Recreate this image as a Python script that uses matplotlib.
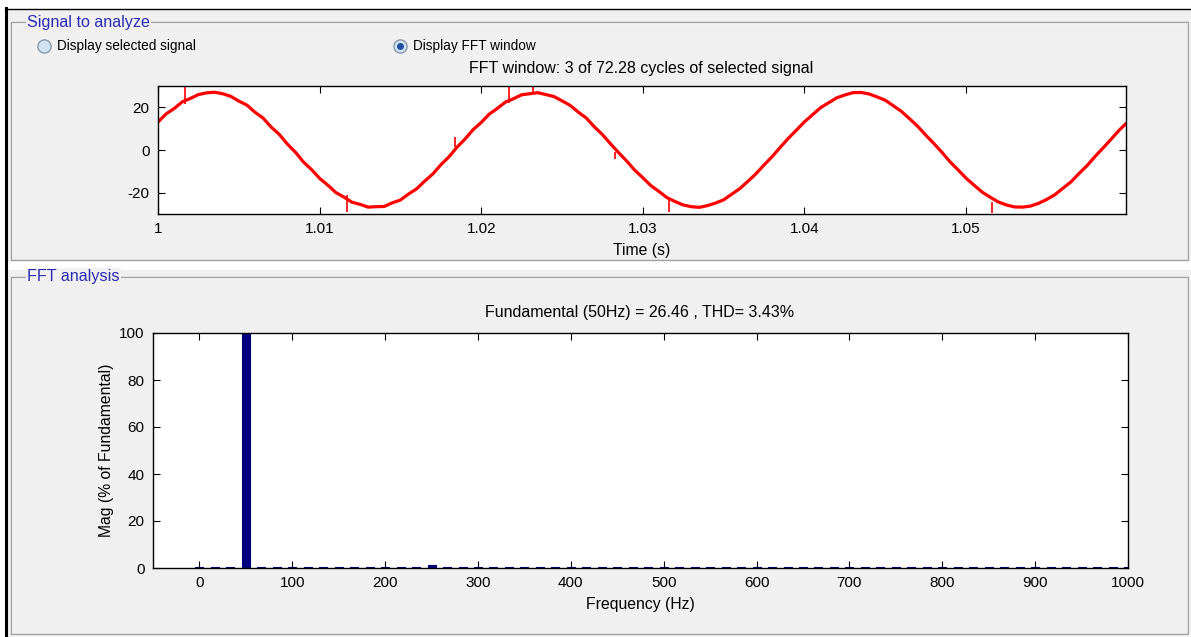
import numpy as np
import matplotlib
matplotlib.use("Agg")
import matplotlib.pyplot as plt
from matplotlib.patches import Rectangle

# ---------------- data ----------------
time_start = 1.0
sample_step = 0.0005
signal_values = [
    13.0, 16.8, 19.3, 22.4, 24.0, 25.8, 26.6, 26.9, 26.2, 25.0,
    22.8, 20.9, 17.6, 14.9, 10.7, 7.3, 2.8, -1.0, -5.6, -9.1,
    -13.2, -16.3, -19.8, -21.9, -24.3, -25.3, -26.6, -26.4, -26.3, -24.6,
    -23.3, -20.5, -18.1, -14.5, -11.2, -6.9, -3.2, 1.3, 5.1, 9.5,
    12.8, 16.7, 19.4, 22.3, 23.9, 25.7, 26.2, 26.7, 25.8, 24.9,
    22.9, 20.8, 17.7, 14.9, 10.8, 7.2, 2.9, -1.2, -5.1, -9.4,
    -12.9, -16.6, -19.3, -22.2, -24.0, -25.6, -26.4, -26.7, -25.9, -24.7,
    -23.2, -20.6, -18.0, -14.6, -11.1, -7.0, -3.1, 1.2, 5.4, 9.2,
    13.1, 16.4, 19.7, 22.0, 24.3, 25.6, 26.7, 26.8, 26.1, 24.7,
    23.2, 20.6, 18.0, 14.6, 11.1, 7.0, 3.1, -1.0, -5.4, -9.2,
    -13.1, -16.4, -19.6, -22.0, -24.2, -25.6, -26.5, -26.6, -26.1, -24.8,
    -23.0, -20.8, -17.8, -14.8, -10.9, -7.2, -2.9, 1.1, 5.2, 9.4,
    13.0,
]
spike_times = [1.0017, 1.0117, 1.0184, 1.0217, 1.0232, 1.0283, 1.0316, 1.0516]
spike_low = [21.5, -29.0, 1.5, 22.0, 26.0, -4.0, -29.0, -29.5]
spike_high = [29.5, -21.0, 6.0, 29.8, 29.5, -1.0, -23.0, -24.0]
time_ticks = [1.0, 1.01, 1.02, 1.03, 1.04, 1.05]
time_tick_labels = ["1", "1.01", "1.02", "1.03", "1.04", "1.05"]
sig_yticks = [-20, 0, 20]

freqs = [0, 16.67, 33.33, 50, 66.67, 83.33, 100, 116.67, 133.33, 150,
         166.67, 183.33, 200, 216.67, 233.33, 250, 266.67, 283.33, 300, 316.67,
         333.33, 350, 366.67, 383.33, 400, 416.67, 433.33, 450, 466.67, 483.33,
         500, 516.67, 533.33, 550, 566.67, 583.33, 600, 616.67, 633.33, 650,
         666.67, 683.33, 700, 716.67, 733.33, 750, 766.67, 783.33, 800, 816.67,
         833.33, 850, 866.67, 883.33, 900, 916.67, 933.33, 950, 966.67, 983.33,
         1000]
mags = [0.35, 0.3, 0.35, 100.0, 0.4, 0.3, 0.3, 0.3, 0.35, 0.45,
        0.3, 0.3, 0.3, 0.3, 0.35, 1.2, 0.35, 0.3, 0.3, 0.3,
        0.3, 0.5, 0.3, 0.3, 0.3, 0.3, 0.3, 0.35, 0.3, 0.3,
        0.3, 0.3, 0.3, 0.35, 0.3, 0.3, 0.3, 0.3, 0.3, 0.3,
        0.3, 0.3, 0.3, 0.3, 0.3, 0.3, 0.3, 0.3, 0.3, 0.3,
        0.3, 0.3, 0.3, 0.3, 0.3, 0.3, 0.3, 0.3, 0.3, 0.3,
        0.3]
freq_ticks = [0, 100, 200, 300, 400, 500, 600, 700, 800, 900, 1000]
mag_ticks = [0, 20, 40, 60, 80, 100]

fft_title = "Fundamental (50Hz) = 26.46 , THD= 3.43%"
win_title = "FFT window: 3 of 72.28 cycles of selected signal"

# ---------------- figure ----------------
W, H = 1191, 637
plt.rcParams["font.family"] = ["Liberation Sans", "DejaVu Sans"]
plt.rcParams["axes.unicode_minus"] = False
fig = plt.figure(figsize=(W / 100, H / 100), dpi=100)
fig.patch.set_facecolor("white")

def px_rect(left, top, right, bottom):
    return [left / W, 1 - bottom / H, (right - left) / W, (bottom - top) / H]

bg = fig.add_axes([0, 0, 1, 1], zorder=0)
bg.set_xlim(0, W)
bg.set_ylim(H, 0)
bg.axis("off")

GRAY = "#f0f0f0"
bg.add_patch(Rectangle((7, 9), W - 7, 253, facecolor=GRAY, edgecolor="none"))
bg.add_patch(Rectangle((7, 270), W - 7, H - 270, facecolor=GRAY, edgecolor="none"))
bg.plot([5, W], [8.5, 8.5], color="black", lw=1.0)
bg.plot([6, 6], [8, H], color="black", lw=2.2)

def panel(left, top, right, bottom, title):
    bg.add_patch(Rectangle((left + 1, top + 1), right - left, bottom - top,
                           facecolor="none", edgecolor="white", lw=1.0))
    bg.add_patch(Rectangle((left, top), right - left, bottom - top,
                           facecolor="none", edgecolor="#a0a0a0", lw=1.0))
    bg.text(left + 16, top, title, color="#2a2ab4", fontsize=11.6,
            va="center", ha="left",
            bbox=dict(facecolor=GRAY, edgecolor="none", pad=1.0))

panel(11, 22, 1188, 260, "Signal to analyze")
panel(11, 277, 1188, 634, "FFT analysis")

# radio buttons
bg.plot([44], [46], marker="o", ms=9.5, mfc="#cfe3f3", mec="#8a9aa8", mew=1.0)
bg.plot([400], [46], marker="o", ms=9.5, mfc="#cfe3f3", mec="#8a9aa8", mew=1.0)
bg.plot([400], [46], marker="o", ms=4.0, mfc="#1f4f9f", mec="#1f4f9f")
bg.text(57, 46, "Display selected signal", fontsize=9.8, va="center", ha="left", color="black")
bg.text(413, 46, "Display FFT window", fontsize=9.8, va="center", ha="left", color="black")

bg.text(641, 69, win_title, fontsize=11.5, va="center", ha="center", color="black")
bg.text(640, 313, fft_title, fontsize=11.5, va="center", ha="center", color="black")

# ---------------- signal axes ----------------
ax1 = fig.add_axes(px_rect(158, 86, 1126, 214), zorder=2)
t = time_start + sample_step * np.arange(len(signal_values))
ax1.plot(t, signal_values, color="red", lw=2.3, solid_joinstyle="round")
ax1.vlines(spike_times, spike_low, spike_high, color="red", lw=1.2)
ax1.set_xlim(1.0, 1.0599)
ax1.set_ylim(-29.8, 29.8)
ax1.set_xticks(time_ticks)
ax1.set_xticklabels(time_tick_labels)
ax1.set_yticks(sig_yticks)
ax1.set_xlabel("Time (s)", fontsize=11.3, labelpad=5)

# ---------------- FFT axes ----------------
ax2 = fig.add_axes(px_rect(153, 333, 1128, 568), zorder=2)
ax2.bar(freqs, mags, width=8.6, color="#00007f", edgecolor="#00007f", lw=0.8)
ax2.set_xlim(-50, 1000)
ax2.set_ylim(0, 100)
ax2.set_xticks(freq_ticks)
ax2.set_yticks(mag_ticks)
ax2.set_xlabel("Frequency (Hz)", fontsize=11.3, labelpad=5)
ax2.set_ylabel("Mag (% of Fundamental)", fontsize=11.3, labelpad=4)

for ax in (ax1, ax2):
    ax.set_facecolor("white")
    ax.tick_params(direction="in", top=True, right=True, length=5, width=0.8,
                   labelsize=11, colors="black", pad=6)
    for s in ax.spines.values():
        s.set_color("black")
        s.set_linewidth(1.0)

fig.savefig("out.png", dpi=100, facecolor=fig.get_facecolor())
